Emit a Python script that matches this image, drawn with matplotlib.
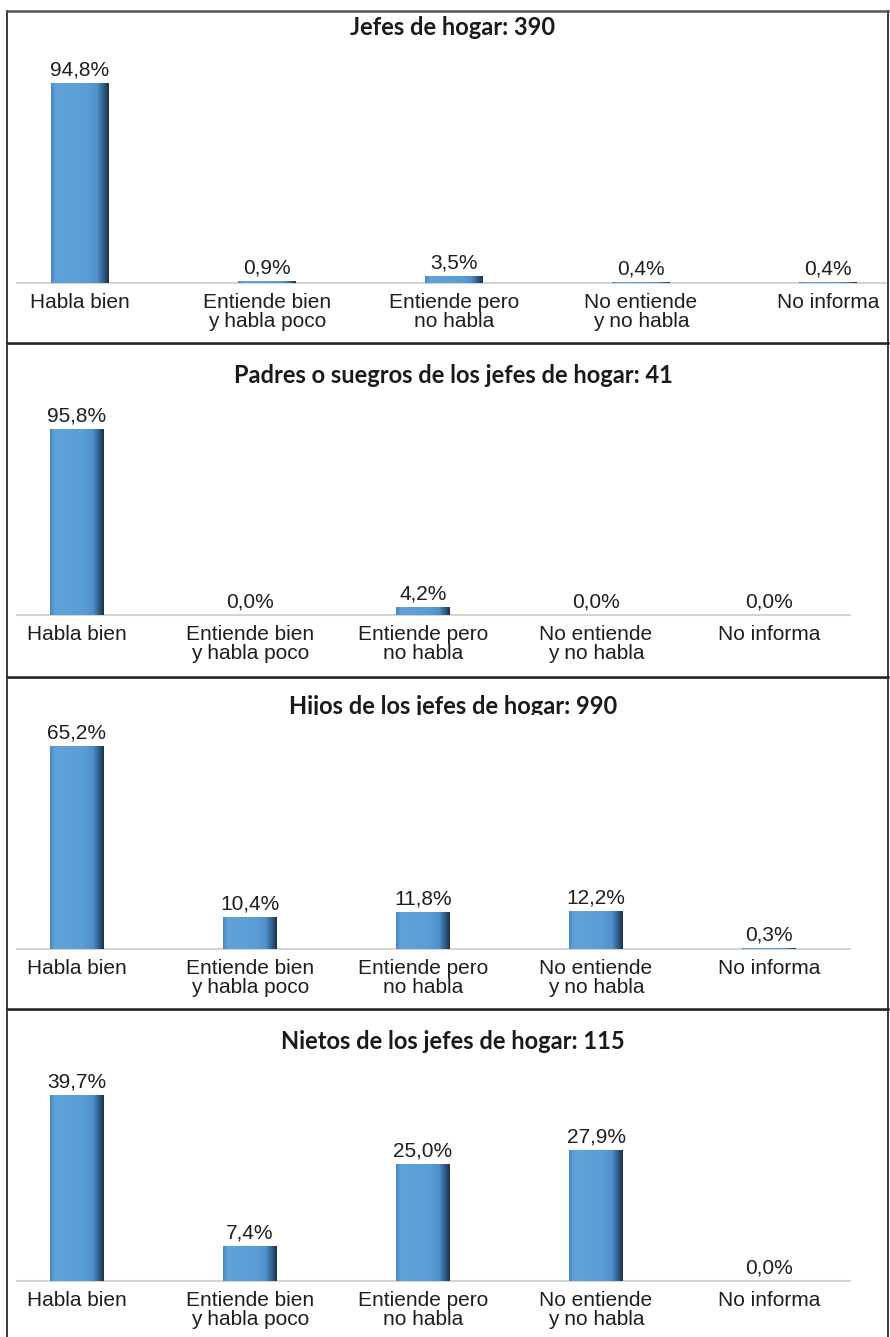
import matplotlib
matplotlib.use('Agg')
import matplotlib.pyplot as plt
import numpy as np
from matplotlib.colors import LinearSegmentedColormap
from matplotlib.lines import Line2D

categories = ['Habla bien', 'Entiende bien\ny habla poco', 'Entiende pero\nno habla',
              'No entiende\ny no habla', 'No informa']
titles = ['Jefes de hogar: 390',
          'Padres o suegros de los jefes de hogar: 41',
          'Hijos de los jefes de hogar: 990',
          'Nietos de los jefes de hogar: 115']
jefes = [94.8, 0.9, 3.5, 0.4, 0.4]
padres = [95.8, 0.0, 4.2, 0.0, 0.0]
hijos = [65.2, 10.4, 11.8, 12.2, 0.3]
nietos = [39.7, 7.4, 25.0, 27.9, 0.0]
series = [jefes, padres, hijos, nietos]

W, H = 890, 1337
DPI = 100

# panel layout in pixels: (panel top, title baseline, axes top, axes right, first bar center, spacing, y max)
panels = [
    (11, 35, 51, 886, 80, 187, 110.0),
    (343, 383, 392, 850, 77, 173, 114.8),
    (677, 714, 715, 850, 77, 173, 75.2),
    (1009, 1049, 1058, 850, 77, 173, 47.6),
]
BASE_REL = 272
LEFT = 17

bar_cmap = LinearSegmentedColormap.from_list(
    'bevel', [(0, '#4a88c0'), (0.08, '#62a2da'), (0.6, '#5b9dd6'),
              (0.8, '#5191cb'), (0.93, '#2c5680'), (1, '#1a334f')], N=256)


def fx(px):
    return px / W


def fy(py):
    return 1 - py / H


def pct(v):
    return f'{v:.1f}%'.replace('.', ',')


fig = plt.figure(figsize=(W / DPI, H / DPI), dpi=DPI)
fig.patch.set_facecolor('white')

for (top, ty, atop, right, c0, sp, ymax), title, vals in zip(panels, titles, series):
    base = top + BASE_REL
    ax = fig.add_axes([fx(LEFT), fy(base), fx(right - LEFT), (base - atop) / H])
    ax.set_facecolor('white')
    ax.set_zorder(2)
    x = np.arange(len(categories))
    bars = ax.bar(x, vals, width=0.31, color='#5b9dd6', edgecolor='none')
    grad = np.linspace(0, 1, 64).reshape(1, -1)
    for b in bars:
        if b.get_height() <= 0:
            continue
        im = ax.imshow(grad, cmap=bar_cmap, aspect='auto',
                       extent=(b.get_x(), b.get_x() + b.get_width(), 0, b.get_height()),
                       zorder=3)
        im.set_clip_path(b)
    for xi, v in zip(x, vals):
        ax.annotate(pct(v), (xi, v), xytext=(0, 2.5), textcoords='offset points',
                    ha='center', va='bottom', fontsize=15, color='#1e1e1e',
                    family='Liberation Sans')
    ax.set_xlim((LEFT - c0) / sp, (right - c0) / sp)
    ax.set_ylim(0, ymax)
    ax.set_xticks(x)
    ax.set_xticklabels(categories, fontsize=15, color='#1e1e1e', family='Liberation Sans',
                       linespacing=0.95)
    ax.tick_params(axis='x', length=0, pad=7.5)
    ax.set_yticks([])
    for s in ['top', 'left', 'right']:
        ax.spines[s].set_visible(False)
    ax.spines['bottom'].set_color('#d4d4d4')
    ax.spines['bottom'].set_linewidth(1.5)

    fig.text(fx(453), fy(ty), title, ha='center', va='baseline', fontsize=17,
             fontweight='bold', family='Lato', color='#1a1a1a', zorder=1)

# frame and separators
edge = '#3a3a3a'
fig.add_artist(Line2D([fx(7), fx(7)], [fy(11), fy(1337)], color=edge, lw=1.4))
fig.add_artist(Line2D([fx(888), fx(888)], [fy(11), fy(1337)], color=edge, lw=1.4))
fig.add_artist(Line2D([fx(7), fx(888)], [fy(11), fy(11)], color='#555555', lw=1.8))
for sy in [343, 677, 1009]:
    fig.add_artist(Line2D([fx(7), fx(888)], [fy(sy + 1), fy(sy + 1)], color='#9a9a9a', lw=1.2))
    fig.add_artist(Line2D([fx(7), fx(888)], [fy(sy), fy(sy)], color='#222222', lw=1.8))

fig.savefig('out.png', dpi=DPI, facecolor='white')
